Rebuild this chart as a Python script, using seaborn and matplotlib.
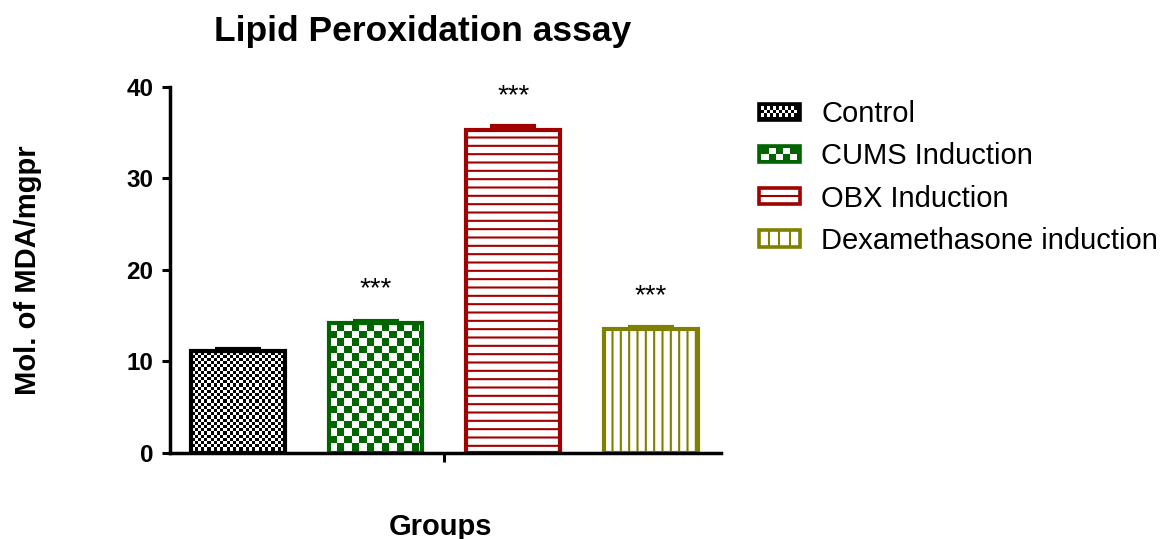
import numpy as np
import pandas as pd
import matplotlib
matplotlib.use("Agg")
import matplotlib.pyplot as plt
import seaborn as sns
from matplotlib.patches import Rectangle, Patch
from matplotlib.lines import Line2D
from matplotlib.legend_handler import HandlerBase
from matplotlib.colors import to_rgba

# ---------------- data ----------------
groups = ["Control", "CUMS Induction", "OBX Induction", "Dexamethasone induction"]
mda_mean = [11.1, 14.2, 35.3, 13.5]
mda_sem = [0.2, 0.2, 0.4, 0.2]
significance = ["", "***", "***", "***"]
colors = ["#000000", "#006400", "#A00000", "#808000"]
patterns = ["checker_fine", "checker", "hlines", "vlines"]
yticks = [0, 10, 20, 30, 40]
title = "Lipid Peroxidation assay"
xlabel = "Groups"
ylabel = "Mol. of MDA/mgpr"

# ---------------- style ----------------
sns.set_style("ticks")
plt.rcParams["font.family"] = ["Liberation Sans", "DejaVu Sans"]
plt.rcParams["hatch.linewidth"] = 1.5
for key in ["text.color", "axes.labelcolor", "xtick.color", "ytick.color", "axes.edgecolor"]:
    plt.rcParams[key] = "black"

W, H = 1166, 539
fig = plt.figure(figsize=(W / 100, H / 100), dpi=100)
ax_l, ax_r, ax_t, ax_b = 170, 721, 86.7, 452.7
ax = fig.add_axes([ax_l / W, 1 - ax_b / H, (ax_r - ax_l) / W, (ax_b - ax_t) / H])

df = pd.DataFrame({"group": groups, "value": mda_mean})
sns.barplot(data=df, x="group", y="value", hue="group", palette=colors,
            width=0.68, errorbar=None, legend=False, saturation=1, ax=ax)
xlim = (-0.494, 3.51)
ax.set_xlim(*xlim)
ax.set_ylim(yticks[0], yticks[-1])

bars = sorted(ax.patches, key=lambda p: p.get_x())
for bar, color, pat in zip(bars, colors, patterns):
    bar.set_edgecolor(color)
    bar.set_linewidth(3)
    bar.set_zorder(2)
    if pat.startswith("checker"):
        bar.set_facecolor("none")
        x0, w, h = bar.get_x(), bar.get_width(), bar.get_height()
        p0 = ax.transData.transform((x0, 0))
        p1 = ax.transData.transform((x0 + w, h))
        nx = int(round(p1[0] - p0[0]))
        ny = int(round(p1[1] - p0[1]))
        cell = 3.2 if pat == "checker_fine" else 7.5
        jj, ii = np.meshgrid(np.arange(nx), np.arange(ny))
        mask = ((np.floor(jj / cell) + np.floor(ii / cell)) % 2).astype(bool)
        img = np.ones((ny, nx, 4))
        img[mask] = to_rgba(color)
        im = ax.imshow(img, extent=[x0, x0 + w, 0, h], origin="upper",
                       interpolation="nearest", aspect="auto", zorder=1.5)
        im.set_clip_path(bar)
    else:
        bar.set_facecolor("white")
        bar.set_hatch("--" if pat == "hlines" else "||")

ax.set_xlim(*xlim)
ax.set_ylim(yticks[0], yticks[-1])

# error caps and significance marks
for bar, m, s, c, sig in zip(bars, mda_mean, mda_sem, colors, significance):
    cx = bar.get_x() + bar.get_width() / 2
    ax.errorbar([cx], [m], yerr=[[0], [s]], fmt="none", ecolor=c, elinewidth=3,
                capsize=16.5, capthick=3, zorder=1.8)
    if sig:
        ax.annotate(sig, (cx, m), xytext=(0, 19), textcoords="offset points",
                    ha="center", va="baseline", fontsize=20)

# axes styling
sns.despine(ax=ax)
for side in ["left", "bottom"]:
    ax.spines[side].set_linewidth(2.5)
    ax.spines[side].set_color("black")
ax.set_xticks([(len(groups) - 1) / 2])
ax.set_xticklabels([])
ax.set_yticks(yticks)
ax.set_yticklabels([str(t) for t in yticks], fontsize=17.5, fontweight="bold")
ax.tick_params(axis="x", length=6.5, width=2.2, direction="out", color="black")
ax.tick_params(axis="y", length=5.8, width=2.2, direction="out", pad=6, color="black",
               labelcolor="black")
ax.set_xlabel("")
ax.set_ylabel("")

fig.text(423 / W, 1 - 41 / H, title, ha="center", va="baseline",
         fontsize=25.5, fontweight="bold", color="black")
fig.text(441 / W, 1 - 535 / H, xlabel, ha="center", va="baseline",
         fontsize=21, fontweight="bold", color="black")
fig.text(28 / W, 1 - 269.7 / H, ylabel, ha="center", va="center",
         rotation=90, fontsize=21, fontweight="bold", color="black")


# legend with pattern swatches
class PatternHandler(HandlerBase):
    def __init__(self, color, pattern):
        super().__init__()
        self.color = color
        self.pattern = pattern

    def create_artists(self, legend, orig_handle, xdescent, ydescent,
                       width, height, fontsize, trans):
        x0, y0 = -xdescent, -ydescent
        lw = 2.6
        arts = []
        if self.pattern.startswith("checker"):
            arts.append(Rectangle((x0, y0), width, height, facecolor=self.color,
                                  edgecolor=self.color, lw=lw, transform=trans))
            ncol, nrow = (12, 3) if self.pattern == "checker_fine" else (5, 2)
            d = 0.15 * height
            iw, ih = width - 2 * d, height - 2 * d
            cw, ch = iw / ncol, ih / nrow
            for r in range(nrow):
                for c in range(ncol):
                    if (r + c) % 2 == 0:
                        arts.append(Rectangle((x0 + d + c * cw, y0 + d + r * ch), cw, ch,
                                              facecolor="white", edgecolor="none",
                                              transform=trans))
        else:
            arts.append(Rectangle((x0, y0), width, height, facecolor="white",
                                  edgecolor=self.color, lw=lw, transform=trans))
            if self.pattern == "hlines":
                arts.append(Line2D([x0, x0 + width], [y0 + height / 2] * 2,
                                   color=self.color, lw=1.5, transform=trans))
            else:
                for k in range(1, 4):
                    xx = x0 + width * k / 4
                    arts.append(Line2D([xx, xx], [y0, y0 + height],
                                       color=self.color, lw=1.5, transform=trans))
        return arts


handles = [Patch(facecolor=c, edgecolor=c) for c in colors]
hmap = {h: PatternHandler(c, p) for h, c, p in zip(handles, colors, patterns)}
leg = fig.legend(handles, groups, handler_map=hmap, loc="upper left",
                 bbox_to_anchor=(759 / W, 1 - 100 / H), bbox_transform=fig.transFigure,
                 frameon=False, fontsize=21, handlelength=1.4, handleheight=0.47,
                 handletextpad=0.73, labelspacing=0.49, borderpad=0, borderaxespad=0)
for t in leg.get_texts():
    t.set_color("black")

fig.savefig("out.png", dpi=100)
